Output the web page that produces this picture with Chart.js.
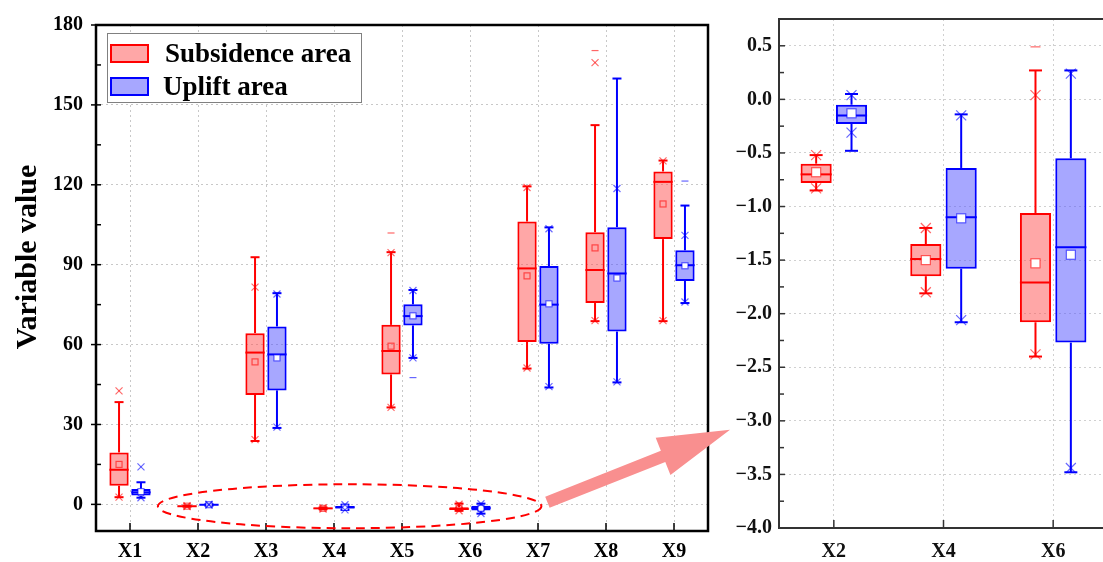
<!DOCTYPE html>
<html>
<head>
<meta charset="utf-8">
<script src="https://cdn.jsdelivr.net/npm/chart.js@4.4.0/dist/chart.umd.min.js"></script>
<style>
    html, body { margin: 0; padding: 0; background: #fff; overflow: hidden; width: 1103px; height: 562px; }
    #mainChart { position: absolute; left: 0; top: 0; }
    #zoomChart { position: absolute; left: 720px; top: 0; }
</style>
</head>
<body>
<canvas id="mainChart" width="735" height="562"></canvas>
<canvas id="zoomChart" width="392" height="562"></canvas>
<script>
    "use strict";

    // Categories and tick labels
    var categories = ["X1", "X2", "X3", "X4", "X5", "X6", "X7", "X8", "X9"];
    var zoomCategories = ["X2", "X4", "X6"];
    var mainTicks = [0, 30, 60, 90, 120, 150, 180];
    var zoomTicks = [-4.0, -3.5, -3.0, -2.5, -2.0, -1.5, -1.0, -0.5, 0.0, 0.5];

    // Subsidence area (box 25-75, whiskers, 1%/99% crosses, min/max dashes)
    var subQ1     = [7.0, -0.78, 41.1, -1.65, 48.8, -2.08, 61.0, 75.6, 99.6];
    var subQ3     = [19.5, -0.60, 64.3, -1.35, 67.4, -1.06, 106.2, 102.2, 125.0];
    var subMedian = [13.0, -0.70, 57.0, -1.49, 57.6, -1.71, 88.6, 88.0, 121.1];
    var subMean   = [15.0, -0.68, 53.5, -1.50, 59.4, -1.53, 85.8, 96.3, 112.8];
    var subLow    = [2.7, -0.85, 23.8, -1.81, 36.4, -2.40, 51.0, 68.8, 68.8];
    var subHigh   = [38.4, -0.52, 92.8, -1.20, 94.7, 0.27, 119.4, 142.4, 129.1];
    var subP1     = [2.7, -0.83, 24.3, -1.80, 36.4, -2.38, 51.2, 69.0, 69.0];
    var subP99    = [42.6, -0.52, 81.6, -1.20, 94.5, 0.04, 119.0, 165.9, 129.0];
    var subMin    = [null, null, null, null, null, null, null, null, null];
    var subMax    = [null, null, null, null, 101.9, 0.49, null, 170.4, null];

    // Uplift area
    var uplQ1     = [3.3, -0.23, 42.8, -1.58, 67.2, -2.27, 60.3, 64.9, 83.9];
    var uplQ3     = [5.8, -0.05, 66.8, -0.64, 75.1, -0.55, 89.5, 104.1, 95.4];
    var uplMedian = [4.5, -0.15, 56.3, -1.10, 70.7, -1.38, 75.0, 86.7, 89.8];
    var uplMean   = [4.8, -0.13, 55.0, -1.11, 70.8, -1.45, 75.3, 85.0, 89.6];
    var uplLow    = [2.5, -0.48, 28.7, -2.08, 55.0, -3.48, 43.9, 45.8, 75.6];
    var uplHigh   = [8.3, 0.05, 79.3, -0.14, 80.5, 0.27, 104.0, 159.9, 112.2];
    var uplP1     = [2.5, -0.31, 29.0, -2.06, 55.0, -3.44, 44.2, 46.0, 76.0];
    var uplP99    = [14.1, 0.04, 79.0, -0.15, 80.3, 0.24, 103.5, 118.6, 101.0];
    var uplMin    = [null, null, null, null, 47.6, null, null, null, null];
    var uplMax    = [null, null, null, null, null, null, null, null, 121.4];

    var RED = "#ff0000", BLUE = "#0000ff";
    var RED_FILL = "rgba(255, 80, 80, 0.5)", BLUE_FILL = "rgba(80, 80, 255, 0.5)";
    var FONT = "'Liberation Serif', 'Times New Roman', serif";

    var series = [
        { label: "Subsidence area", color: RED, fill: RED_FILL, soft: "rgba(255, 0, 0, 0.6)",
          q1: subQ1, q3: subQ3, med: subMedian, mean: subMean, low: subLow, high: subHigh,
          p1: subP1, p99: subP99, min: subMin, max: subMax },
        { label: "Uplift area", color: BLUE, fill: BLUE_FILL, soft: "rgba(0, 0, 255, 0.6)",
          q1: uplQ1, q3: uplQ3, med: uplMedian, mean: uplMean, low: uplLow, high: uplHigh,
          p1: uplP1, p99: uplP99, min: uplMin, max: uplMax }
    ];

    var mainIdx = categories.map(function (c, i) { return i; });
    var zoomIdx = zoomCategories.map(function (c) { return categories.indexOf(c); });

    function line(ctx, x1, y1, x2, y2) {
        ctx.beginPath();
        ctx.moveTo(x1, y1);
        ctx.lineTo(x2, y2);
        ctx.stroke();
    }

    // whiskers, medians, means and the cross / dash markers on top of the floating bars
    function boxPlugin(cfg) {
        return {
            id: "boxExtras",
            afterDatasetsDraw: function (chart) {
                var ctx = chart.ctx, ys = chart.scales.y, a = chart.chartArea;
                ctx.save();
                ctx.beginPath();
                ctx.rect(a.left, a.top, a.right - a.left, a.bottom - a.top);
                ctx.clip();
                series.forEach(function (s, d) {
                    var meta = chart.getDatasetMeta(d);
                    meta.data.forEach(function (bar, j) {
                        var i = cfg.index[j];
                        var x = bar.x, half = bar.width / 2;
                        var py = function (v) { return ys.getPixelForValue(v); };
                        ctx.strokeStyle = s.color;
                        ctx.lineWidth = cfg.lineWidth;
                        line(ctx, x, py(s.q3[i]), x, py(s.high[i]));
                        line(ctx, x, py(s.q1[i]), x, py(s.low[i]));
                        line(ctx, x - cfg.cap, py(s.high[i]), x + cfg.cap, py(s.high[i]));
                        line(ctx, x - cfg.cap, py(s.low[i]), x + cfg.cap, py(s.low[i]));
                        line(ctx, x - half, py(s.med[i]), x + half, py(s.med[i]));

                        // mean square
                        var m = py(s.mean[i]), h = cfg.meanSize / 2;
                        if (cfg.meanFill[d]) {
                            ctx.fillStyle = cfg.meanFill[d];
                            ctx.fillRect(x - h, m - h, 2 * h, 2 * h);
                        }
                        ctx.lineWidth = 1.2;
                        ctx.strokeStyle = s.soft;
                        ctx.strokeRect(x - h, m - h, 2 * h, 2 * h);

                        // 1% / 99% crosses
                        var c = cfg.cross;
                        [s.p1[i], s.p99[i]].forEach(function (v) {
                            if (v === null) return;
                            var yy = py(v);
                            line(ctx, x - c, yy - c, x + c, yy + c);
                            line(ctx, x - c, yy + c, x + c, yy - c);
                        });
                        // min / max dashes
                        [s.min[i], s.max[i]].forEach(function (v) {
                            if (v === null) return;
                            var yy = py(v);
                            line(ctx, x - cfg.dash, yy, x + cfg.dash, yy);
                        });
                    });
                });
                ctx.restore();
            }
        };
    }

    // frame, inner tick marks
    function framePlugin(cfg) {
        return {
            id: "frame",
            afterDraw: function (chart) {
                var ctx = chart.ctx, a = chart.chartArea;
                var ys = chart.scales.y, xs = chart.scales.x;
                ctx.save();
                ctx.strokeStyle = cfg.color;
                ctx.lineWidth = 1.5;
                cfg.ticks.forEach(function (v, k) {
                    var yy = ys.getPixelForValue(v);
                    line(ctx, a.left - cfg.outLen, yy, a.left + cfg.inLen, yy);
                    var next = k + 1 < cfg.ticks.length ? cfg.ticks[k + 1] : v + (v - cfg.ticks[k - 1]);
                    var mid = (v + next) / 2;
                    if (mid < ys.max && mid > ys.min) {
                        var ym = ys.getPixelForValue(mid);
                        line(ctx, a.left, ym, a.left + cfg.minorLen, ym);
                    }
                });
                for (var i = 0; i < xs.ticks.length; i++) {
                    var xx = xs.getPixelForTick(i);
                    line(ctx, xx, a.bottom, xx, a.bottom - cfg.xLen);
                }
                ctx.lineWidth = cfg.frameWidth;
                ctx.strokeRect(a.left, a.top, a.right - a.left, a.bottom - a.top);
                ctx.restore();
            }
        };
    }

    // legend box, axis title, dashed ellipse and arrow of the main panel
    var mainDecor = {
        id: "mainDecor",
        afterDraw: function (chart) {
            var ctx = chart.ctx, a = chart.chartArea;
            var xs = chart.scales.x, ys = chart.scales.y;
            ctx.save();

            // legend
            ctx.fillStyle = "#fff";
            ctx.fillRect(a.left + 11, a.top + 8, 254, 69);
            ctx.strokeStyle = "#808080";
            ctx.lineWidth = 1;
            ctx.strokeRect(a.left + 11.5, a.top + 8.5, 254, 69);
            series.forEach(function (s, d) {
                var top = a.top + 19 + d * 33;
                ctx.fillStyle = s.fill;
                ctx.fillRect(a.left + 14, top, 39, 19);
                ctx.strokeStyle = s.color;
                ctx.lineWidth = 2;
                ctx.strokeRect(a.left + 15, top + 1, 37, 17);
                ctx.fillStyle = "#000";
                ctx.font = "bold 27px " + FONT;
                ctx.textBaseline = "alphabetic";
                ctx.fillText(s.label, a.left + 69 - d * 2, top + 18);
            });

            // y axis title
            ctx.save();
            ctx.translate(36, 257);
            ctx.rotate(-Math.PI / 2);
            ctx.font = "bold 30px " + FONT;
            ctx.textAlign = "center";
            ctx.fillStyle = "#000";
            ctx.fillText("Variable value", 0, 0);
            ctx.restore();

            // dashed ellipse around the small values
            var cx = xs.getPixelForValue(3.23), rx = xs.getPixelForValue(6.05) - cx;
            var cy = ys.getPixelForValue(-0.7), ry = 22;
            ctx.strokeStyle = RED;
            ctx.lineWidth = 2;
            ctx.setLineDash([9, 6]);
            ctx.beginPath();
            ctx.ellipse(cx, cy, rx, ry, 0, 0, Math.PI * 2);
            ctx.stroke();
            ctx.setLineDash([]);

            // arrow to the zoomed panel
            var tx = cx + rx + 6, ty = cy - 4;
            var px = a.right + 22, py = ys.getPixelForValue(28);
            var dx = px - tx, dy = py - ty, len = Math.sqrt(dx * dx + dy * dy);
            var ux = dx / len, uy = dy / len, nx = -uy, ny = ux;
            var bx = px - ux * 72, by = py - uy * 72;
            ctx.fillStyle = "#f98f8f";
            ctx.beginPath();
            ctx.moveTo(tx + nx * 6, ty + ny * 6);
            ctx.lineTo(bx + nx * 6, by + ny * 6);
            ctx.lineTo(bx + nx * 20, by + ny * 20);
            ctx.lineTo(px, py);
            ctx.lineTo(bx - nx * 20, by - ny * 20);
            ctx.lineTo(bx - nx * 6, by - ny * 6);
            ctx.lineTo(tx - nx * 6, ty - ny * 6);
            ctx.closePath();
            ctx.fill();
            ctx.restore();
        }
    };

    function datasets(idx) {
        return series.map(function (s) {
            return {
                label: s.label,
                data: idx.map(function (i) { return [s.q1[i], s.q3[i]]; }),
                backgroundColor: s.fill,
                borderColor: s.color,
                borderWidth: 2,
                borderSkipped: false,
                categoryPercentage: 0.645,
                barPercentage: 0.88
            };
        });
    }

    function axisFont() {
        return { family: FONT, size: 20, weight: "bold" };
    }

    // Main panel
    var ctx1 = document.getElementById("mainChart").getContext("2d");
    var mainChart = new Chart(ctx1, {
        type: "bar",
        data: { labels: categories, datasets: datasets(mainIdx) },
        options: {
            responsive: false,
            animation: false,
            layout: { padding: { top: 20, right: 27, bottom: 0, left: 0 } },
            plugins: { legend: { display: false }, tooltip: { enabled: false } },
            scales: {
                x: {
                    grid: { offset: false, color: "#c8c8c8", drawTicks: false },
                    border: { display: false, dash: [2, 3] },
                    ticks: { font: axisFont(), color: "#000", padding: 9 },
                    afterFit: function (s) { s.height = 31; }
                },
                y: {
                    min: -10,
                    max: 180,
                    afterBuildTicks: function (s) { s.ticks = mainTicks.map(function (v) { return { value: v }; }); },
                    grid: { color: "#c8c8c8", drawTicks: false },
                    border: { display: false, dash: [2, 3] },
                    ticks: { font: axisFont(), color: "#000", padding: 13 },
                    afterFit: function (s) { s.width = 96; }
                }
            }
        },
        plugins: [
            boxPlugin({ index: mainIdx, lineWidth: 2, cap: 4.5, cross: 3.5, dash: 3.5, meanSize: 6,
                        meanFill: [null, "#fff"] }),
            framePlugin({ color: "#000", ticks: mainTicks, outLen: 5, inLen: 5, minorLen: 5, xLen: 8, frameWidth: 2.5 }),
            mainDecor
        ]
    });

    // Zoomed panel (X2, X4, X6)
    var ctx2 = document.getElementById("zoomChart").getContext("2d");
    var zoomChart = new Chart(ctx2, {
        type: "bar",
        data: { labels: zoomCategories, datasets: datasets(zoomIdx) },
        options: {
            responsive: false,
            animation: false,
            layout: { padding: { top: 19, right: 4, bottom: 0, left: 0 } },
            plugins: { legend: { display: false }, tooltip: { enabled: false } },
            scales: {
                x: {
                    grid: { offset: false, color: "#d0d0d0", drawTicks: false },
                    border: { display: false, dash: [2, 3] },
                    ticks: { font: axisFont(), color: "#111", padding: 12 },
                    afterFit: function (s) { s.height = 34; }
                },
                y: {
                    min: -4,
                    max: 0.75,
                    afterBuildTicks: function (s) { s.ticks = zoomTicks.map(function (v) { return { value: v }; }); },
                    grid: { color: "#d0d0d0", drawTicks: false },
                    border: { display: false, dash: [2, 3] },
                    ticks: {
                        font: axisFont(),
                        color: "#111",
                        padding: 7,
                        callback: function (v) { return v.toFixed(1).replace("-", "\u2212"); }
                    },
                    afterFit: function (s) { s.width = 59; }
                }
            }
        },
        plugins: [
            boxPlugin({ index: zoomIdx, lineWidth: 2, cap: 6.5, cross: 5, dash: 5, meanSize: 9,
                        meanFill: ["#fff", "#fff"] }),
            framePlugin({ color: "#333", ticks: zoomTicks, outLen: 0, inLen: 6, minorLen: 5, xLen: 8, frameWidth: 2 })
        ]
    });
</script>
</body>
</html>
